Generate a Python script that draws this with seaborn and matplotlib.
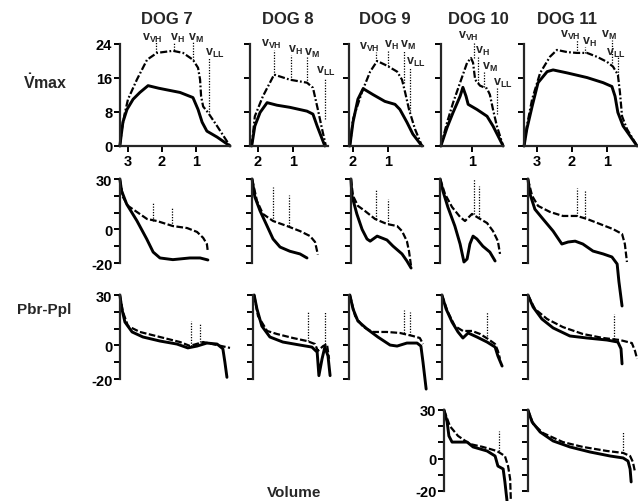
import matplotlib
matplotlib.use("Agg")
import matplotlib.pyplot as plt
import seaborn as sns

sns.set_style("ticks")
plt.rcParams["font.family"] = ["Liberation Sans", "DejaVu Sans"]
plt.rcParams["font.weight"] = "bold"
plt.rcParams["mathtext.fontset"] = "custom"
plt.rcParams["mathtext.rm"] = "Liberation Sans:bold"
plt.rcParams["mathtext.it"] = "Liberation Sans:bold"
plt.rcParams["mathtext.bf"] = "Liberation Sans:bold"

# ---- data (volume, value) ---------------------------------------------
dogs = ["DOG 7", "DOG 8", "DOG 9", "DOG 10", "DOG 11"]
xticks = [[3, 2, 1], [2, 1], [2, 1], [1], [3, 2, 1]]
vmax_ticks = [0, 8, 16, 24]
p_ticks = [-20, -10, 0, 10, 20, 30]
p_ticklabels = ["-20", "", "0", "", "", "30"]
mark_subs = ["VH", "H", "M", "LL"]

# Vmax: solid and dash-dot curves
d7_vmax_solid = [(3.24, 0), (3.2, 2.5), (3.15, 5.6), (3.03, 8.6), (2.85, 11.0), (2.65, 12.6), (2.41, 14.2),
                 (2.1, 13.6), (1.85, 13.2), (1.47, 12.6), (1.09, 11.4), (0.94, 8.6), (0.82, 5.6),
                 (0.68, 3.5), (0.38, 2.1), (0, 0)]
d7_vmax_dash = [(3.24, 0), (3.18, 4.0), (3.1, 7.5), (3.0, 11.0), (2.74, 15.6), (2.44, 20.3), (2.15, 21.9),
                (1.68, 22.4), (1.38, 21.9), (1.09, 20.3), (0.94, 18.4), (0.88, 15.6), (0.85, 11.7),
                (0.79, 9.3), (0.65, 7.9), (0.38, 4.7), (0, 0)]
d8_vmax_solid = [(2.18, 0), (2.09, 4.7), (1.94, 7.9), (1.74, 10.2), (1.46, 9.6), (1.09, 9.1), (0.6, 8.2),
                 (0.43, 7.5), (0.31, 4.7), (0.09, 0)]
d8_vmax_dash = [(2.18, 0), (2.09, 7.0), (1.86, 11.7), (1.54, 16.8), (1.09, 15.6), (0.6, 14.9), (0.43, 13.7),
                (0.29, 8.6), (0.17, 4.0), (0.06, 0)]
d9_vmax_solid = [(2.09, 0), (2.0, 5.6), (1.86, 11.0), (1.71, 13.5), (1.43, 12.1), (1.09, 10.5), (0.8, 9.8),
                 (0.66, 8.6), (0.46, 5.6), (0.29, 2.8), (0.03, 0)]
d9_vmax_dash = [(2.09, 0), (2.0, 6.3), (1.74, 12.8), (1.51, 17.5), (1.31, 20.0), (1.03, 18.9), (0.74, 17.5),
                (0.6, 15.6), (0.51, 12.6), (0.4, 8.6), (0.23, 4.0), (0.03, 0)]
d10_vmax_solid = [(1.89, 0), (1.71, 4.4), (1.54, 7.9), (1.34, 11.7), (1.26, 13.8), (1.17, 11.7), (1.11, 9.8),
                  (0.86, 8.6), (0.57, 7.0), (0.4, 4.7), (0.11, 0)]
d10_vmax_dash = [(1.89, 0), (1.71, 5.6), (1.54, 10.2), (1.34, 14.9), (1.14, 19.6), (1.03, 20.7), (0.97, 19.6),
                 (0.91, 15.6), (0.77, 14.2), (0.57, 13.5), (0.49, 12.1), (0.4, 8.6), (0.29, 4.7), (0.11, 0)]
d11_vmax_solid = [(3.37, 0), (3.29, 4.0), (3.14, 9.3), (2.97, 14.9), (2.71, 17.5), (2.54, 17.9), (2.14, 17.2),
                  (1.57, 16.1), (1.11, 14.9), (0.86, 14.0), (0.77, 11.7), (0.69, 7.9), (0.54, 4.7), (0.14, 0)]
d11_vmax_dash = [(3.37, 0), (3.29, 4.7), (3.14, 11.0), (2.91, 17.2), (2.63, 21.0), (2.43, 22.6), (2.14, 22.1),
                 (1.86, 21.9), (1.57, 21.9), (1.29, 21.0), (1.0, 19.8), (0.83, 18.7), (0.69, 16.8),
                 (0.63, 12.6), (0.57, 7.0), (0.43, 4.0), (0.14, 0)]

# Vmax marks: (volume, top, bottom) and label positions (volume, value)
d7_marks = [(2.18, 24.5, 22.1), (1.65, 24.5, 22.6), (1.09, 24.5, 20.3), (0.62, 20.7, 7.9)]
d7_labels = [(2.29, 25.6), (1.56, 25.6), (1.0, 25.6), (0.44, 22.1)]
d8_marks = [(1.54, 22.6, 16.8), (1.06, 21.4, 15.6), (0.6, 21.0, 14.9), (0.09, 16.1, 6.3)]
d8_labels = [(1.63, 24.2), (0.94, 22.6), (0.46, 22.1), (0.06, 17.7)]
d9_marks = [(1.34, 22.1, 20.0), (1.0, 22.6, 18.9), (0.54, 22.6, 14.9), (0.37, 18.4, 8.2)]
d9_labels = [(1.54, 23.5), (0.91, 23.8), (0.43, 23.8), (0.2, 19.8)]
d10_marks = [(0.94, 24.5, 20.7), (0.83, 21.0, 14.9), (0.66, 17.5, 13.8), (0.29, 13.8, 7.5)]
d10_labels = [(1.11, 26.1), (0.71, 22.4), (0.49, 18.6), (0.11, 14.9)]
d11_marks = [(1.86, 24.9, 21.9), (1.63, 23.3, 21.9), (0.86, 24.9, 19.6), (0.69, 21.0, 16.8)]
d11_labels = [(2.06, 26.3), (1.51, 24.5), (0.94, 26.3), (0.74, 22.1)]

# Pbr-Ppl, first row
d7_p1_solid = [(3.24, 30), (3.19, 23), (3.04, 15.1), (2.74, 5.2), (2.45, -5.7), (2.26, -13.5), (2.06, -17),
               (1.68, -18), (1.18, -17), (0.88, -17), (0.65, -18.2)]
d7_p1_dash = [(3.24, 30), (3.15, 19.3), (3.0, 14), (2.74, 10.4), (2.44, 6.2), (2.15, 5), (1.68, 2), (1.26, 0.8),
              (0.97, -1.5), (0.79, -5), (0.68, -8.7), (0.65, -13.5)]
d7_p1_marks = [(2.26, 16.3, 5.0), (1.7, 13.3, 2.0)]
d8_p1_solid = [(2.17, 30), (2.09, 19.3), (1.94, 11), (1.74, 2), (1.57, -5.7), (1.37, -10.5), (1.09, -13),
               (0.8, -14.6), (0.6, -17)]
d8_p1_dash = [(2.17, 30), (2.03, 17), (1.86, 9.2), (1.57, 5), (1.17, 2), (0.8, -1), (0.51, -4), (0.37, -7.5),
              (0.29, -15)]
d8_p1_marks = [(1.57, 25, 5), (1.11, 20.5, 2)]
d9_p1_solid = [(2.06, 30), (2.03, 20), (1.89, 9.2), (1.74, 0), (1.6, -5.7), (1.51, -7), (1.31, -4), (1.03, -6.3),
               (0.86, -9.9), (0.6, -14.6), (0.46, -18.8), (0.34, -23)]
d9_p1_dash = [(2.06, 30), (2.0, 20), (1.86, 14), (1.66, 11), (1.37, 6.2), (1.03, 3.2), (0.74, 2), (0.6, -1),
              (0.46, -7), (0.4, -13), (0.34, -22)]
d9_p1_marks = [(1.34, 23.5, 6.2), (1.0, 18, 3.2)]
d10_p1_solid = [(1.91, 30), (1.83, 22.8), (1.69, 13.3), (1.49, 2), (1.34, -8.7), (1.23, -19.4), (1.14, -17.6),
                (1.06, -8.7), (0.97, -4), (0.86, -5.7), (0.69, -10), (0.49, -13.5), (0.34, -18.8)]
d10_p1_dash = [(1.91, 30), (1.77, 21), (1.57, 13.3), (1.34, 7.4), (1.2, 5), (1.0, 9.2), (0.83, 7), (0.57, 3.8),
               (0.4, -1), (0.26, -7), (0.2, -14.6)]
d10_p1_marks = [(0.94, 30, 9.2), (0.8, 26, 7.4)]
d11_p1_solid = [(3.26, 30), (3.2, 21), (3.06, 12), (2.83, 6.2), (2.54, -1), (2.29, -8.7), (2.11, -7.5),
                (1.91, -7), (1.69, -8.7), (1.4, -12.9), (1.11, -14.6), (0.86, -16.4), (0.71, -20.6),
                (0.66, -31), (0.57, -45.6)]
d11_p1_dash = [(3.26, 30), (3.14, 20), (2.97, 14), (2.63, 10.4), (2.26, 8), (1.86, 8), (1.57, 6.2), (1.2, 3.2),
               (0.83, 0.2), (0.57, -2.7), (0.49, -8.7), (0.43, -19.4)]
d11_p1_marks = [(1.86, 24.6, 8), (1.63, 23.5, 7.2)]

# Pbr-Ppl, second row
d7_p2_solid = [(3.24, 30), (3.18, 21.7), (3.09, 13.9), (2.88, 8), (2.56, 5), (2.06, 2.6), (1.56, 0.8),
               (1.24, -1.5), (0.97, -0.4), (0.68, 1.4), (0.38, 0.8), (0.21, -2), (0.15, -10), (0.09, -19)]
d7_p2_dash = [(3.24, 30), (3.15, 20), (3.0, 11.5), (2.65, 8), (2.06, 5), (1.47, 2), (1.18, -0.3), (0.79, 2),
              (0.38, 0.2), (0, -1.5)]
d7_p2_marks = [(1.15, 14.5, -0.3), (0.88, 12.7, 2)]
d8_p2_solid = [(2.11, 30), (2.03, 21.7), (1.89, 11.5), (1.66, 5), (1.29, 2), (0.8, 0.2), (0.46, -1), (0.31, -4),
               (0.26, -18), (0.17, -8), (0.09, -1), (0, -6.3), (-0.06, -18)]
d8_p2_dash = [(2.11, 30), (2.0, 17.5), (1.74, 8.6), (1.46, 6.8), (1.0, 4.4), (0.6, 2.6), (0.37, 0.8),
              (0.29, -3.3), (0.14, -0.4), (0.03, 0.8), (-0.03, -8)]
d8_p2_marks = [(0.57, 20.5, 2.6), (0.09, 19.9, 0.8)]
d9_p2_solid = [(2.09, 30), (2.0, 21.7), (1.86, 14.5), (1.6, 9.8), (1.29, 5), (0.94, 0.2), (0.74, -0.4),
               (0.46, 1.4), (0.17, 1.4), (0.06, -0.4), (0, -10), (-0.09, -26)]
d9_p2_dash = [(2.09, 30), (1.94, 17.5), (1.71, 11), (1.43, 8), (1.03, 8), (0.66, 7.4), (0.29, 5.6), (0.09, 4.4),
              (0, 0.8)]
d9_p2_marks = [(0.54, 21, 7.4), (0.37, 20, 6.2)]
d10_p2_solid = [(1.86, 30), (1.74, 21.7), (1.57, 13.9), (1.4, 8), (1.26, 4.4), (1.11, 7.4), (0.86, 5), (0.57, 2),
                (0.34, -1), (0.26, -6.3), (0.14, -12.3)]
d10_p2_dash = [(1.86, 30), (1.69, 19.9), (1.49, 11.5), (1.26, 8.6), (1.0, 8.6), (0.77, 6.8), (0.54, 3.8),
               (0.34, 0.8), (0.26, -3.3), (0.2, -8)]
d10_p2_marks = [(0.57, 19.9, 5.6)]
d11_p2_solid = [(3.26, 30), (3.11, 22.8), (2.86, 15.7), (2.54, 10.4), (2.06, 5.6), (1.57, 4.4), (1.0, 3.2),
                (0.69, 2), (0.6, -2), (0.57, -11)]
d11_p2_dash = [(3.26, 30), (3.06, 21.7), (2.71, 15.7), (2.26, 10.9), (1.69, 6.8), (1.11, 4.4), (0.63, 3.2),
               (0.29, 1.4), (0.2, -3.3), (0.14, -8)]
d11_p2_marks = [(0.8, 18.7, 3.8)]

# Pbr-Ppl, third row (dogs 10 and 11 only)
d10_p3_solid = [(1.8, 30), (1.71, 22.6), (1.66, 14), (1.57, 10.2), (1.4, 10.2), (1.14, 10.2), (0.97, 7.2),
                (0.57, 4.7), (0.34, 1.6), (0.26, -4.6), (0.11, -6.4), (0.06, -14.4), (0, -26)]
d10_p3_dash = [(1.8, 30), (1.63, 20), (1.4, 14), (1.06, 9), (0.69, 7.2), (0.29, 4.7), (0.06, 1.6), (-0.03, -4.6),
               (-0.09, -12.6), (-0.11, -26)]
d10_p3_marks = [(0.23, 17, 4.7)]
d11_p3_solid = [(3.26, 30), (3.14, 22.6), (2.91, 16.4), (2.54, 10.9), (2.06, 7.2), (1.49, 4.1), (0.91, 1.6),
                (0.54, 0.4), (0.4, -1.5), (0.34, -6.4), (0.31, -14.4)]
d11_p3_dash = [(3.26, 30), (3.11, 21.4), (2.83, 15.8), (2.26, 10.2), (1.69, 7.2), (1.0, 4.7), (0.54, 3.5),
               (0.34, 1.6), (0.26, -2.1), (0.2, -8.3)]
d11_p3_marks = [(0.54, 17, 3.5)]

# ---- layout (pixels) --------------------------------------------------
W, H = 638, 502
col_zero = [230, 328, 423, 507, 642]
col_ppu = [34, 35, 35, 35, 35]
col_right = [230, 328, 423, 503, 638]
row_top = [45, 180, 296, 411]
row_bot = [147, 264, 380, 492]
row_left = [[120, 250, 349, 441, 524],
            [120, 252, 351, 440, 528],
            [120, 253, 349, 442, 528],
            [None, None, None, 444, 528]]

panels = {
    (0, 0): (d7_vmax_solid, d7_vmax_dash, d7_marks), (0, 1): (d8_vmax_solid, d8_vmax_dash, d8_marks),
    (0, 2): (d9_vmax_solid, d9_vmax_dash, d9_marks), (0, 3): (d10_vmax_solid, d10_vmax_dash, d10_marks),
    (0, 4): (d11_vmax_solid, d11_vmax_dash, d11_marks),
    (1, 0): (d7_p1_solid, d7_p1_dash, d7_p1_marks), (1, 1): (d8_p1_solid, d8_p1_dash, d8_p1_marks),
    (1, 2): (d9_p1_solid, d9_p1_dash, d9_p1_marks), (1, 3): (d10_p1_solid, d10_p1_dash, d10_p1_marks),
    (1, 4): (d11_p1_solid, d11_p1_dash, d11_p1_marks),
    (2, 0): (d7_p2_solid, d7_p2_dash, d7_p2_marks), (2, 1): (d8_p2_solid, d8_p2_dash, d8_p2_marks),
    (2, 2): (d9_p2_solid, d9_p2_dash, d9_p2_marks), (2, 3): (d10_p2_solid, d10_p2_dash, d10_p2_marks),
    (2, 4): (d11_p2_solid, d11_p2_dash, d11_p2_marks),
    (3, 3): (d10_p3_solid, d10_p3_dash, d10_p3_marks), (3, 4): (d11_p3_solid, d11_p3_dash, d11_p3_marks),
}
labels_row1 = [d7_labels, d8_labels, d9_labels, d10_labels, d11_labels]

dashdot = (0, (3.2, 1, 0.8, 1))
dashed = (0, (3, 1.1))
dotted = (0, (1, 1.2))

fig = plt.figure(figsize=(W / 100, H / 100), dpi=100)


def draw(ax, pts, **kw):
    v, y = zip(*pts)
    sns.lineplot(x=list(v), y=list(y), ax=ax, color="black", sort=False, estimator=None,
                 clip_on=False, **kw)


for (r, c), (solid, other, marks) in panels.items():
    left = row_left[r][c]
    right = col_right[c]
    ax = fig.add_axes([left / W, 1 - row_bot[r] / H, (right - left) / W, (row_bot[r] - row_top[r]) / H])
    ax.set_facecolor("none")
    draw(ax, solid, lw=2.1, solid_capstyle="round", solid_joinstyle="round")
    draw(ax, other, lw=1.6, linestyle=dashdot if r == 0 else dashed, dash_joinstyle="round")
    for vol, top, bot in marks:
        ax.vlines(vol, bot, top, colors="black", lw=0.9, linestyles=[dotted], clip_on=False)

    ax.set_xlim((col_zero[c] - left) / col_ppu[c], (col_zero[c] - right) / col_ppu[c])
    ax.set_xlabel("")
    ax.set_ylabel("")
    for s in ["top", "right"]:
        ax.spines[s].set_visible(False)
    for s in ["left", "bottom"]:
        ax.spines[s].set_linewidth(1.6)
    ax.tick_params(direction="out", length=4, width=1.4, pad=1.5, labelsize=10.5, colors="black")

    if r == 0:
        ax.set_ylim(0, 24)
        ax.set_yticks(vmax_ticks)
        ax.set_yticklabels([str(t) for t in vmax_ticks] if c == 0 else [])
        ax.set_xticks(xticks[c])
        ax.set_xticklabels([str(t) for t in xticks[c]])
        for (lv, ly), sub in zip(labels_row1[c], mark_subs):
            ax.text(lv, ly, r"$\mathbf{v_{%s}}$" % sub, ha="center", va="center", fontsize=9,
                    clip_on=False)
    else:
        ax.set_ylim(-20, 30)
        ax.spines["bottom"].set_visible(False)
        ax.set_xticks([])
        ax.set_yticks(p_ticks)
        first = (c == 0) or (r == 3 and c == 3)
        ax.set_yticklabels(p_ticklabels if first else [])

# titles and labels
title_x = [167, 288, 385, 478, 567]
for name, x in zip(dogs, title_x):
    fig.text(x / W, 1 - 20 / H, name, ha="center", va="center", fontsize=12)
fig.text(45 / W, 1 - 82 / H, r"$\dot{\mathbf{V}}$max", ha="center", va="center", fontsize=11.5)
fig.text(44 / W, 1 - 310 / H, "Pbr-Ppl", ha="center", va="center", fontsize=11)
fig.text(294 / W, 1 - 493 / H, "Volume", ha="center", va="center", fontsize=11)

fig.savefig("out.png", dpi=100, facecolor="white")
